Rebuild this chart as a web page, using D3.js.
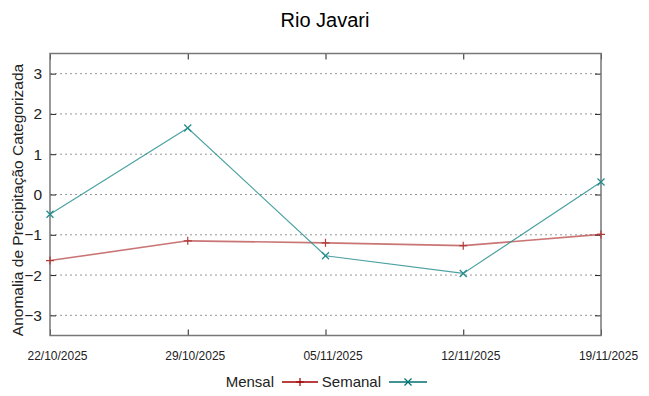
<!DOCTYPE html>
<html><head><meta charset="utf-8">
<script src="https://cdn.jsdelivr.net/npm/d3@7"></script>
<style>body{margin:0;background:#fff}svg{display:block;font-family:"Liberation Sans",Arial,sans-serif}</style>
</head><body><svg id="c" width="649" height="396"></svg>
<script>
const title = "Rio Javari";
const yLabel = "Anomalia de Precipitação Categorizada";
const dates = ["22/10/2025","29/10/2025","05/11/2025","12/11/2025","19/11/2025"];
const mensal = [-1.64, -1.15, -1.20, -1.27, -0.99];
const semanal = [-0.49, 1.65, -1.52, -1.96, 0.31];
const yTicks = [-3,-2,-1,0,1,2,3];

const svg = d3.select("#c");
const L=50, R=601, T=53.5, B=335.5;
const x = d3.scalePoint().domain(dates).range([L,R]);
const y = d3.scaleLinear().domain([-3.5,3.5]).range([B,T]);

svg.append("text").attr("x",325).attr("y",27).attr("text-anchor","middle")
  .attr("font-size",20).attr("fill","#000").text(title);

// grid
svg.append("g").selectAll("line").data(yTicks).join("line")
  .attr("x1",L).attr("x2",R).attr("y1",d=>y(d)).attr("y2",d=>y(d))
  .attr("stroke","#999").attr("stroke-width",1).attr("stroke-dasharray","2,3");

// axes
const gl = svg.append("g").attr("transform",`translate(${L},0)`)
  .call(d3.axisLeft(y).tickValues(yTicks).tickSize(-6).tickPadding(8).tickFormat(d3.format("d")));
const gr = svg.append("g").attr("transform",`translate(${R},0)`)
  .call(d3.axisRight(y).tickValues(yTicks).tickSize(-6).tickFormat(""));
const gb = svg.append("g").attr("transform",`translate(0,${B})`)
  .call(d3.axisBottom(x).tickSize(-6).tickPadding(16));
const gt = svg.append("g").attr("transform",`translate(0,${T})`)
  .call(d3.axisTop(x).tickSize(-6).tickFormat(""));
[gl,gr,gb,gt].forEach(g=>{g.select(".domain").remove();g.selectAll(".tick line").attr("stroke","#222");});
gl.selectAll("text").attr("font-size",15.5).attr("fill","#222").attr("font-family","Liberation Sans, Arial, sans-serif");
gb.selectAll("text").attr("font-size",12).attr("fill","#222").attr("dx",7).attr("font-family","Liberation Sans, Arial, sans-serif");
svg.append("rect").attr("x",L).attr("y",T).attr("width",R-L).attr("height",B-T)
  .attr("fill","none").attr("stroke","#777").attr("stroke-width",1.5);

svg.append("text").attr("transform",`translate(23,200) rotate(-90)`)
  .attr("text-anchor","middle").attr("font-size",15.5).attr("fill","#222").text(yLabel);

const line = d3.line().x((d,i)=>x(dates[i])).y(d=>y(d));
const cM = "#b33a3a", cS = "#1f8a8a";
svg.append("path").datum(mensal).attr("d",line).attr("fill","none").attr("stroke",cM).attr("stroke-opacity",0.7).attr("stroke-width",1.6);
svg.append("path").datum(semanal).attr("d",line).attr("fill","none").attr("stroke",cS).attr("stroke-opacity",0.8).attr("stroke-width",1.2);

function plus(g,cx,cy,c){g.append("path").attr("d",`M${cx-4},${cy}H${cx+4}M${cx},${cy-4}V${cy+4}`).attr("stroke",c).attr("stroke-width",1.2);}
function cross(g,cx,cy,c){g.append("path").attr("d",`M${cx-3.5},${cy-3.5}L${cx+3.5},${cy+3.5}M${cx-3.5},${cy+3.5}L${cx+3.5},${cy-3.5}`).attr("stroke",c).attr("stroke-width",1.2);}
const mk = svg.append("g");
mensal.forEach((v,i)=>plus(mk,x(dates[i]),y(v),cM));
semanal.forEach((v,i)=>cross(mk,x(dates[i]),y(v),cS));

// legend
const lg = svg.append("g");
lg.append("text").attr("x",274).attr("y",387).attr("text-anchor","end").attr("font-size",15).attr("fill","#222").text("Mensal");
lg.append("line").attr("x1",282).attr("x2",318).attr("y1",382).attr("y2",382).attr("stroke","#a00000").attr("stroke-width",1.3);
plus(lg,300,382,"#a00000");
lg.append("text").attr("x",381).attr("y",387).attr("text-anchor","end").attr("font-size",15).attr("fill","#222").text("Semanal");
lg.append("line").attr("x1",389).attr("x2",427).attr("y1",382).attr("y2",382).attr("stroke","#007070").attr("stroke-width",1.3);
cross(lg,408,382,"#007070");
</script></body></html>
